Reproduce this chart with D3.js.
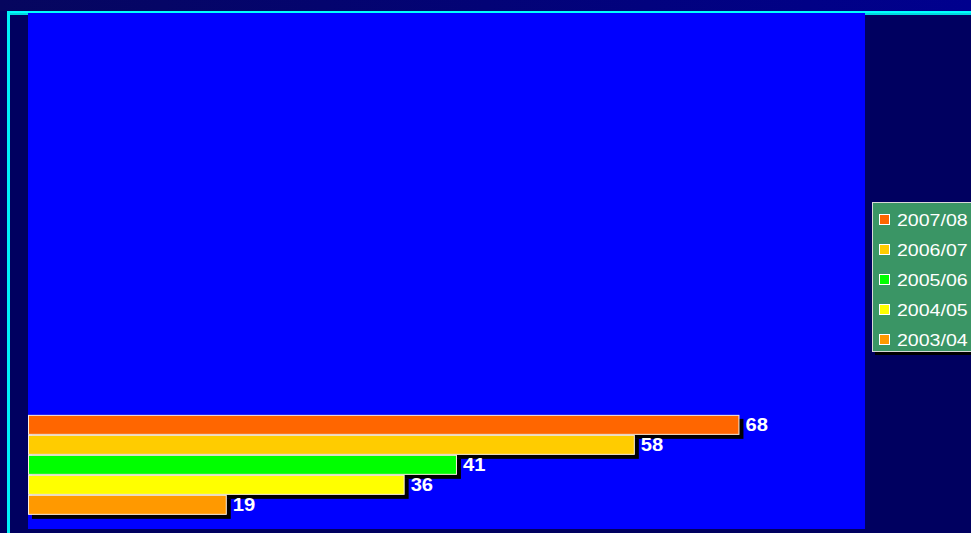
<!DOCTYPE html>
<html>
<head>
<meta charset="utf-8">
<script src="https://cdn.jsdelivr.net/npm/d3@7"></script>
<style>
  html, body { margin: 0; padding: 0; background: #000060; overflow: hidden; }
  svg { display: block; font-family: "Liberation Sans", Arial, sans-serif; }
</style>
</head>
<body>
<div id="chart"></div>
<script>
// data
const group = ["total"];
const seasons = ["2007/08", "2006/07", "2005/06", "2004/05", "2003/04"];
const values = [68, 58, 41, 36, 19];
const colors = ["#ff6600", "#ffcc00", "#00ff00", "#ffff00", "#ff9900"];

const W = 971, H = 533;
const plot = {left: 28, top: 13, right: 865, bottom: 529};

const svg = d3.select("#chart")
    .append("svg")
    .attr("width", W)
    .attr("height", H);

// top gradient strip
const defs = svg.append("defs");
const grad = defs.append("linearGradient")
    .attr("id", "topgrad")
    .attr("x1", "0").attr("x2", "1").attr("y1", "0").attr("y2", "0");
grad.append("stop").attr("offset", "0").attr("stop-color", "#06065e");
grad.append("stop").attr("offset", "1").attr("stop-color", "#00008e");

svg.append("rect")
    .attr("x", 0).attr("y", 0)
    .attr("width", W).attr("height", 11)
    .attr("fill", "url(#topgrad)");

// cyan frame lines
svg.append("rect")
    .attr("x", 7).attr("y", 11)
    .attr("width", W - 7).attr("height", 2)
    .attr("fill", "#00ffff");
svg.append("rect")
    .attr("x", 7).attr("y", 13)
    .attr("width", W - 7).attr("height", 2)
    .attr("fill", "#00d8e0");
svg.append("rect")
    .attr("x", 7).attr("y", 11)
    .attr("width", 3).attr("height", H - 11)
    .attr("fill", "#00f0f8");

// plot area
svg.append("rect")
    .attr("x", plot.left).attr("y", plot.top)
    .attr("width", plot.right - plot.left)
    .attr("height", plot.bottom - plot.top)
    .attr("fill", "#0000ff");

// scales
const x = d3.scaleLinear()
    .domain([0, 80])
    .range([plot.left, plot.right]);

const y = d3.scaleBand()
    .domain(group)
    .range([plot.top, plot.bottom])
    .paddingOuter(2.08)
    .align(0.966);

const ySeason = d3.scaleBand()
    .domain(seasons)
    .range([0, y.bandwidth()]);

const rows = seasons.map((s, i) => ({season: s, value: values[i], color: colors[i]}));

// bars with drop shadows (shadow drawn before each bar)
const barG = svg.append("g")
    .attr("transform", `translate(0,${y("total")})`);

const row = barG.selectAll("g.row")
    .data(rows)
    .join("g")
    .attr("class", "row");

row.append("rect")
    .attr("x", x(0) + 4)
    .attr("y", d => ySeason(d.season) + 4)
    .attr("width", d => x(d.value) - x(0))
    .attr("height", ySeason.bandwidth())
    .attr("fill", "#000000");

row.append("rect")
    .attr("x", x(0) + 0.5)
    .attr("y", d => ySeason(d.season) + 0.5)
    .attr("width", d => x(d.value) - x(0) - 1)
    .attr("height", ySeason.bandwidth() - 1)
    .attr("fill", d => d.color)
    .attr("stroke", "#fbeee0")
    .attr("stroke-width", 1);

// value labels
const labels = barG.selectAll("text.val")
    .data(rows)
    .join("text")
    .attr("class", "val")
    .attr("x", d => x(d.value) + 6)
    .attr("y", d => ySeason(d.season) + ySeason.bandwidth() / 2 + 6.5)
    .attr("fill", "#ffffff")
    .style("font-size", "18px")
    .style("font-weight", "bold")
    .text(d => d.value);
labels.each(function() {
    const len = this.getComputedTextLength();
    d3.select(this).attr("textLength", len * 1.12).attr("lengthAdjust", "spacingAndGlyphs");
});

// legend
const legend = svg.append("g")
    .attr("transform", "translate(872,202)");

legend.append("rect")
    .attr("x", 3).attr("y", 3)
    .attr("width", 130).attr("height", 150)
    .attr("fill", "#000000");
legend.append("rect")
    .attr("x", 0.5).attr("y", 0.5)
    .attr("width", 130).attr("height", 149)
    .attr("fill", "#3a9565")
    .attr("stroke", "#d8d8d8")
    .attr("stroke-width", 1);

const item = legend.selectAll("g.item")
    .data(rows)
    .join("g")
    .attr("class", "item")
    .attr("transform", (d, i) => `translate(0,${17.5 + i * 30})`);

item.append("rect")
    .attr("x", 7.5).attr("y", -5)
    .attr("width", 10).attr("height", 10)
    .attr("fill", d => d.color)
    .attr("stroke", "#ffffff")
    .attr("stroke-width", 1);

const ltext = item.append("text")
    .attr("x", 25)
    .attr("y", 6)
    .attr("fill", "#ffffff")
    .style("font-size", "17px")
    .text(d => d.season);
ltext.each(function() {
    const len = this.getComputedTextLength();
    d3.select(this).attr("textLength", len * 1.15).attr("lengthAdjust", "spacingAndGlyphs");
});
</script>
</body>
</html>
